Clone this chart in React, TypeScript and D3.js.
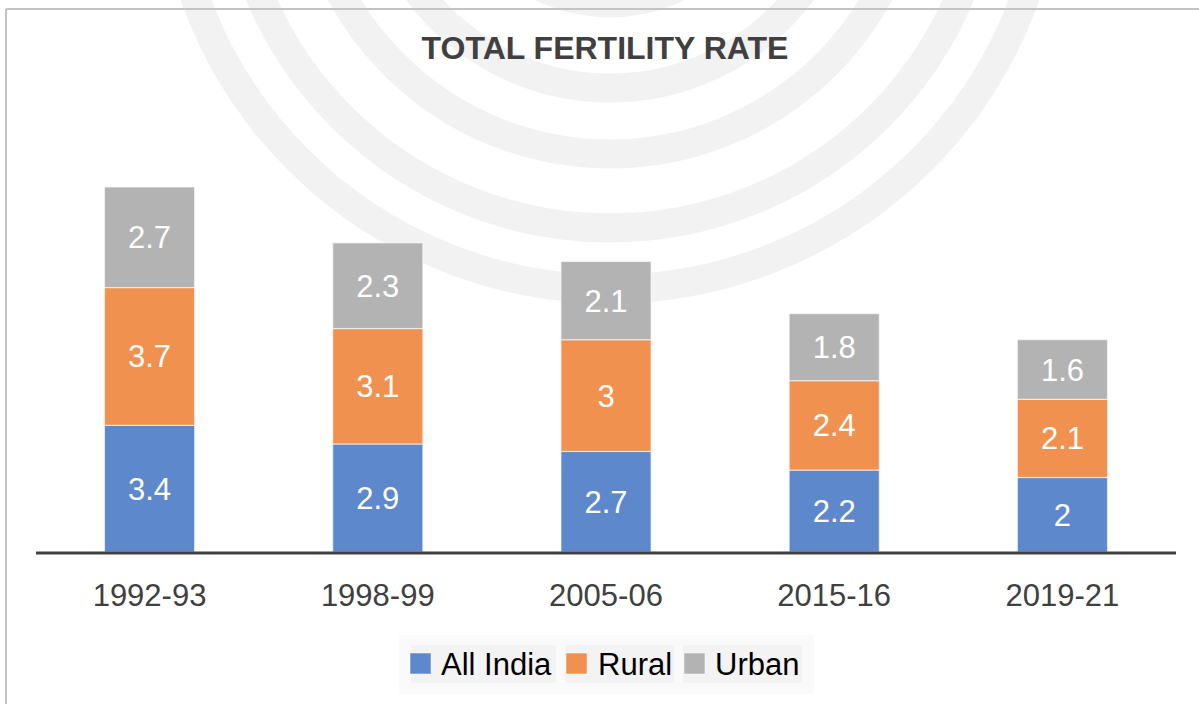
import React from "react";
import * as d3 from "d3";

const categories = ["1992-93", "1998-99", "2005-06", "2015-16", "2019-21"];
const allIndia = [3.4, 2.9, 2.7, 2.2, 2.0];
const rural = [3.7, 3.1, 3.0, 2.4, 2.1];
const urban = [2.7, 2.3, 2.1, 1.8, 1.6];
const seriesNames = ["All India", "Rural", "Urban"];
const seriesColors = ["#5E88CC", "#F0914F", "#B3B3B3"];
const title = "TOTAL FERTILITY RATE";
const ringRadii = [155, 240, 306, 380, 441];

const W = 1199;
const H = 704;
const FONT = "'Liberation Sans', Arial, sans-serif";

export default function App() {
  const rows = categories.map((c, i) => ({
    cat: c,
    "All India": allIndia[i],
    Rural: rural[i],
    Urban: urban[i],
  }));
  const stack = d3.stack<any>().keys(seriesNames);
  const layers = stack(rows);

  const x = d3.scaleBand().domain(categories).range([36, 1176]).paddingInner(0.605).paddingOuter(0.3);
  const y = d3.scaleLinear().domain([0, 9.8]).range([552, 187]);

  const legendItems = [
    { name: seriesNames[0], sx: 410, tx: 441, bx0: 411, bx1: 556 },
    { name: seriesNames[1], sx: 566, tx: 598, bx0: 565, bx1: 674 },
    { name: seriesNames[2], sx: 684, tx: 715, bx0: 683, bx1: 802 },
  ];

  return (
    <svg width={W} height={H} style={{ position: "absolute", left: 0, top: 0 }} fontFamily={FONT}>
      <rect x={0} y={0} width={W} height={H} fill="#ffffff" />
      <g>
        {ringRadii.map((r) => (
          <circle key={r} cx={610} cy={-152} r={r} fill="none" stroke="#F1F2F1" strokeWidth={29} />
        ))}
      </g>
      <line x1={6} x2={W} y1={9} y2={9} stroke="#C3C3C3" strokeWidth={2} />
      <line x1={6} x2={6} y1={9} y2={H} stroke="#C3C3C3" strokeWidth={2} />
      <text x={605} y={59} textAnchor="middle" fontSize={32} fontWeight="bold" fill="#404040">
        {title}
      </text>
      {layers.map((layer, li) => (
        <g key={layer.key}>
          {layer.map((d, i) => {
            const x0 = x(categories[i])!;
            const y0 = y(d[1]);
            const y1 = y(d[0]);
            const v = d[1] - d[0];
            return (
              <g key={i}>
                <rect x={x0} y={y0} width={x.bandwidth()} height={y1 - y0} fill={seriesColors[li]} stroke="#ffffff" strokeOpacity={0.6} strokeWidth={1.2} />
                <text x={x0 + x.bandwidth() / 2} y={(y0 + y1) / 2 + 11} textAnchor="middle" fontSize={31} fill="#ffffff">
                  {d3.format("")(+v.toFixed(1))}
                </text>
              </g>
            );
          })}
        </g>
      ))}
      <line x1={36} x2={1176} y1={553} y2={553} stroke="#404040" strokeWidth={3} />
      {categories.map((c) => (
        <text key={c} x={x(c)! + x.bandwidth() / 2} y={606} textAnchor="middle" fontSize={31} fill="#404040">
          {c}
        </text>
      ))}
      <rect x={399} y={635} width={415} height={59} fill="#FAFAFA" />
      {legendItems.map((it, i) => (
        <g key={it.name}>
          <rect x={it.bx0} y={645} width={it.bx1 - it.bx0} height={38} fill="#F3F3F3" />
          <rect x={it.sx} y={653} width={21} height={21} fill={seriesColors[i]} stroke="#ffffff" strokeOpacity={0.5} strokeWidth={1} />
          <text x={it.tx} y={675} fontSize={31} fill="#000000">
            {it.name}
          </text>
        </g>
      ))}
    </svg>
  );
}
